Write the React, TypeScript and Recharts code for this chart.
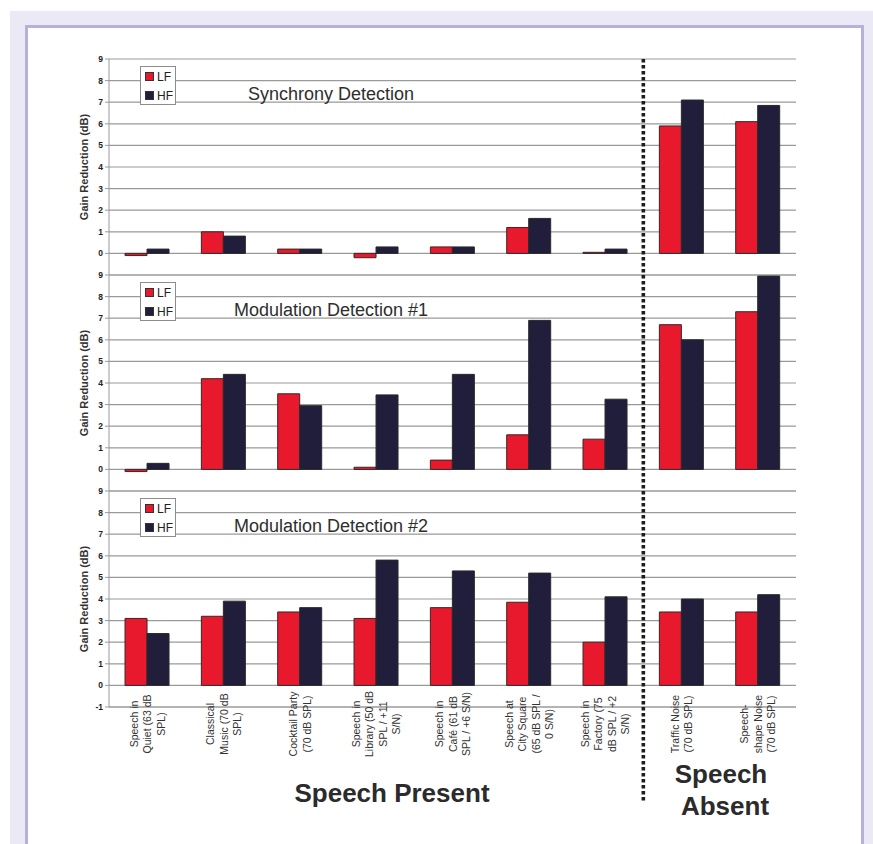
import { BarChart, Bar, XAxis, YAxis, CartesianGrid, Legend } from 'recharts'

// conditions along the x axis (full names + how they wrap under the bottom panel)
const categories = [
  'Speech in Quiet (63 dB SPL)',
  'Classical Music (70 dB SPL)',
  'Cocktail Party (70 dB SPL)',
  'Speech in Library (50 dB SPL / +11 S/N)',
  'Speech in Café (61 dB SPL / +6 S/N)',
  'Speech at City Square (65 dB SPL / 0 S/N)',
  'Speech in Factory (75 dB SPL / +2 S/N)',
  'Traffic Noise (70 dB SPL)',
  'Speech-shape Noise (70 dB SPL)',
]
const categoryLines = [
  ['Speech in', 'Quiet (63 dB', 'SPL)'],
  ['Classical', 'Music (70 dB', 'SPL)'],
  ['Cocktail Party', '(70 dB SPL)'],
  ['Speech in', 'Library (50 dB', 'SPL / +11', 'S/N)'],
  ['Speech in', 'Café (61 dB', 'SPL / +6 S/N)'],
  ['Speech at', 'City Square', '(65 dB SPL /', '0 S/N)'],
  ['Speech in', 'Factory (75', 'dB SPL / +2', 'S/N)'],
  ['Traffic Noise', '(70 dB SPL)'],
  ['Speech-', 'shape Noise', '(70 dB SPL)'],
]

// gain reduction (dB), LF / HF per panel
const syncLF = [-0.1, 1.0, 0.2, -0.2, 0.3, 1.2, 0.05, 5.9, 6.1]
const syncHF = [0.2, 0.8, 0.2, 0.3, 0.3, 1.62, 0.2, 7.1, 6.85]
const mod1LF = [-0.1, 4.2, 3.5, 0.1, 0.43, 1.6, 1.4, 6.7, 7.3]
const mod1HF = [0.28, 4.4, 2.95, 3.45, 4.4, 6.9, 3.25, 6.0, 8.95]
const mod2LF = [3.1, 3.2, 3.4, 3.1, 3.6, 3.85, 2.0, 3.4, 3.4]
const mod2HF = [2.4, 3.9, 3.6, 5.8, 5.3, 5.2, 4.1, 4.0, 4.2]

const seriesOrder = ['LF', 'HF']
const panelTitles = ['Synchrony Detection', 'Modulation Detection #1', 'Modulation Detection #2']
const yTicks = [0, 1, 2, 3, 4, 5, 6, 7, 8, 9]
const yTicksBottom = [-1, 0, 1, 2, 3, 4, 5, 6, 7, 8, 9]

const FONT = '"Liberation Sans", Arial, sans-serif'
const RED = '#e8192c'
const NAVY = '#211e3c'
const GRID = '#9a9a9a'

const PLOT_LEFT = 109
const PLOT_RIGHT = 796
const PLOT_TOP = 59
const PANEL_H = 216
const M_TOP = 10
const XAXIS_H = 90
const CHART_W = 800

function LegendBox({ payload }: any) {
  const items = [...(payload || [])].sort((a: any, b: any) => seriesOrder.indexOf(a.value) - seriesOrder.indexOf(b.value))
  return (
    <div
      style={{
        boxSizing: 'border-box',
        width: 36,
        height: 39,
        border: '1px solid #8c8c8c',
        background: '#fff',
        padding: '0 0 0 4px',
        fontFamily: FONT,
        fontSize: 12,
        color: '#222',
      }}
    >
      {items.map((p: any) => (
        <div key={p.value} style={{ display: 'flex', alignItems: 'center', height: 19 }}>
          <span
            style={{
              display: 'inline-block',
              width: 7,
              height: 7,
              background: p.color,
              border: '1px solid #333',
              marginRight: 3,
            }}
          />
          {p.value}
        </div>
      ))}
    </div>
  )
}

function CategoryTick({ x, y, payload, index }: any) {
  const i = index ?? categories.indexOf(payload.value)
  const lines = categoryLines[i] || [payload.value]
  const step = 13.4
  return (
    <g transform={`translate(${x}, ${y + 17}) rotate(-90)`}>
      <text textAnchor="middle" fontFamily={FONT} fontSize={10.5} fill="#333">
        {lines.map((l, k) => (
          <tspan key={k} x={0} y={(k - (lines.length - 1) / 2) * step + 4}>
            {l}
          </tspan>
        ))}
      </text>
    </g>
  )
}

function Panel({ lf, hf, index, bottom }: { lf: number[]; hf: number[]; index: number; bottom?: boolean }) {
  const data = categories.map((name, i) => ({ name, lf: lf[i], hf: hf[i] }))
  const chartTop = PLOT_TOP + index * PANEL_H - M_TOP
  const height = M_TOP + PANEL_H + (bottom ? XAXIS_H : M_TOP)
  const ticks = bottom ? yTicksBottom : yTicks
  return (
    <div style={{ position: 'absolute', left: 0, top: chartTop }}>
      <BarChart
        width={CHART_W}
        height={height}
        data={data}
        margin={{ top: M_TOP, right: CHART_W - PLOT_RIGHT, left: PLOT_LEFT - 50, bottom: bottom ? 0 : M_TOP }}
        barCategoryGap="21%"
        barGap={0}
      >
        <CartesianGrid yAxisId="l" vertical={false} stroke={GRID} strokeWidth={1.2} />
        <XAxis
          dataKey="name"
          hide={!bottom}
          height={XAXIS_H}
          interval={0}
          tickLine={false}
          tickSize={0}
          tickMargin={0}
          axisLine={{ stroke: GRID }}
          tick={<CategoryTick />}
        />
        <YAxis
          yAxisId="l"
          domain={[-1, 9]}
          ticks={ticks}
          interval={0}
          allowDataOverflow
          width={50}
          tickSize={4}
          tickMargin={2}
          axisLine={{ stroke: GRID }}
          tickLine={{ stroke: GRID }}
          tick={{ fontSize: 8.5, fontWeight: 'bold', fill: '#222', fontFamily: FONT }}
          label={{
            value: 'Gain Reduction (dB)',
            angle: -90,
            position: 'center',
            fontSize: 11,
            fontWeight: 'bold',
            fill: '#333',
            fontFamily: FONT,
          }}
        />
        <YAxis
          yAxisId="r"
          orientation="right"
          domain={[-1, 9]}
          ticks={ticks}
          width={0}
          tick={false}
          tickLine={false}
          axisLine={{ stroke: GRID }}
        />
        <Legend
          layout="horizontal"
          align="center"
          verticalAlign="middle"
          content={<LegendBox />}
          wrapperStyle={{ left: 140, top: 66 - PLOT_TOP + M_TOP, width: 36, height: 39 }}
        />
        <Bar yAxisId="l" dataKey="lf" name="LF" fill={RED} stroke="#3a2626" strokeWidth={1} isAnimationActive={false} />
        <Bar yAxisId="l" dataKey="hf" name="HF" fill={NAVY} stroke="#2a2a2a" strokeWidth={1} isAnimationActive={false} />
      </BarChart>
    </div>
  )
}

export default function App() {
  const sepX = PLOT_LEFT + (7 * (PLOT_RIGHT - PLOT_LEFT)) / categories.length
  return (
    <div style={{ position: 'absolute', left: 0, top: 0, width: 873, height: 844, background: '#fff', overflow: 'hidden' }}>
      <div style={{ position: 'absolute', left: 10, top: 11, right: 0, bottom: 0, background: '#ebe9f5' }} />
      <div
        style={{
          position: 'absolute',
          left: 25,
          top: 25,
          width: 833,
          height: 900,
          background: '#fff',
          borderLeft: '3px solid #b6b1dc',
          borderTop: '3px solid #b6b1dc',
          borderRight: '3px solid #b6b1dc',
        }}
      />
      <Panel lf={syncLF} hf={syncHF} index={0} />
      <Panel lf={mod1LF} hf={mod1HF} index={1} />
      <Panel lf={mod2LF} hf={mod2HF} index={2} bottom />
      <svg width={873} height={844} style={{ position: 'absolute', left: 0, top: 0, pointerEvents: 'none' }}>
        <line x1={sepX} x2={sepX} y1={PLOT_TOP} y2={802} stroke="#1e1e1e" strokeWidth={3.6} strokeDasharray="3.4 2.6" />
        {panelTitles.map((t, i) => (
          <text key={t} x={331} y={100 + i * PANEL_H} textAnchor="middle" fontFamily={FONT} fontSize={18} fill="#2e2e2e">
            {t}
          </text>
        ))}
        <text x={392} y={802} textAnchor="middle" fontFamily={FONT} fontSize={26} fontWeight="bold" fill="#2b2b2b">
          Speech Present
        </text>
        <text x={721} y={783} textAnchor="middle" fontFamily={FONT} fontSize={26} fontWeight="bold" fill="#2b2b2b">
          Speech
        </text>
        <text x={725} y={815} textAnchor="middle" fontFamily={FONT} fontSize={26} fontWeight="bold" fill="#2b2b2b">
          Absent
        </text>
      </svg>
    </div>
  )
}
